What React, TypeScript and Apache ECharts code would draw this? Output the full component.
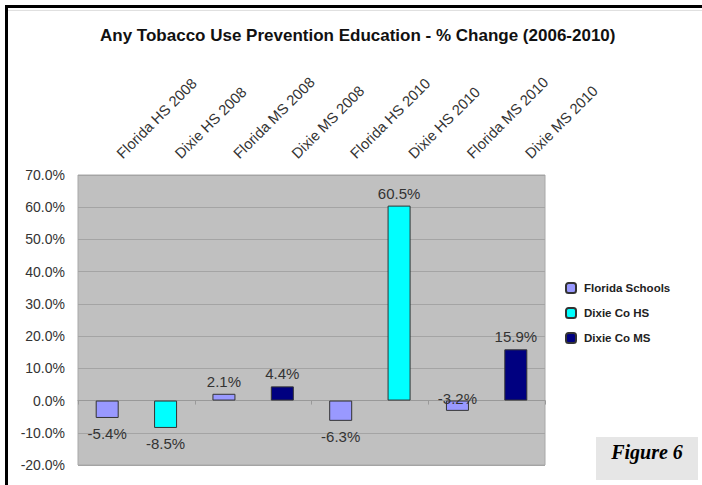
import React, { useEffect, useRef } from "react";
import * as echarts from "echarts";

const title = "Any Tobacco Use Prevention Education - % Change (2006-2010)";
const categories = [
  "Florida HS 2008",
  "Dixie HS 2008",
  "Florida MS 2008",
  "Dixie MS 2008",
  "Florida HS 2010",
  "Dixie HS 2010",
  "Florida MS 2010",
  "Dixie MS 2010",
];
const floridaSchools = [-5.4, null, 2.1, null, -6.3, null, -3.2, null];
const dixieCoHS = [null, -8.5, null, null, null, 60.5, null, null];
const dixieCoMS = [null, null, null, 4.4, null, null, null, 15.9];
const seriesNames = ["Florida Schools", "Dixie Co HS", "Dixie Co MS"];
const seriesColors = ["#9999ff", "#00ffff", "#000080"];
const yMin = -20;
const yMax = 70;
const yInterval = 10;
const figureLabel = "Figure 6";

const FONT = "'Liberation Sans', Arial, Helvetica, sans-serif";

function buildItems(vals: (number | null)[]) {
  return vals.map((v, i) => {
    if (v === null) return "-";
    if (categories[i] === "Florida MS 2010") {
      return { value: v, label: { position: "top", offset: [0, 10] } };
    }
    if (v < 0) return { value: v, label: { position: "bottom", distance: 8 } };
    return { value: v, label: { position: "top" } };
  });
}

export default function App() {
  const ref = useRef<HTMLDivElement>(null);
  useEffect(() => {
    if (!ref.current) return;
    const chart = echarts.init(ref.current, null, { renderer: "svg" });
    const allData = [floridaSchools, dixieCoHS, dixieCoMS];
    chart.setOption({
      animation: false,
      backgroundColor: "#ffffff",
      title: {
        text: title,
        left: 100,
        top: 27,
        padding: 0,
        textStyle: { fontFamily: FONT, fontSize: 17, fontWeight: "bold", color: "#111" },
      },
      legend: {
        orient: "vertical",
        left: 565,
        top: 282,
        padding: 0,
        itemWidth: 10,
        itemHeight: 10,
        itemGap: 13,
        data: seriesNames,
        textStyle: {
          fontFamily: FONT,
          fontSize: 11.5,
          fontWeight: "bold",
          color: "#222",
          padding: [0, 0, 0, 3],
        },
      },
      grid: {
        left: 78,
        top: 175,
        right: 157,
        bottom: 20,
        show: true,
        backgroundColor: "#c0c0c0",
        borderColor: "#a8a8a8",
        borderWidth: 1,
      },
      xAxis: [
        {
          type: "category",
          position: "top",
          data: categories,
          axisLine: { show: false, onZero: false },
          axisTick: { show: false },
          axisLabel: {
            interval: 0,
            rotate: -45,
            margin: 7,
            padding: [0, 0, 0, 17],
            fontFamily: FONT,
            fontSize: 14.7,
            color: "#333",
          },
        },
        {
          type: "category",
          position: "bottom",
          data: categories,
          axisLine: { show: true, onZero: true, lineStyle: { color: "#999", width: 1 } },
          axisTick: { show: true, length: 4, inside: false, lineStyle: { color: "#999" } },
          axisLabel: { show: false },
        },
      ],
      yAxis: {
        type: "value",
        min: yMin,
        max: yMax,
        interval: yInterval,
        axisLine: { show: false },
        axisTick: { show: false },
        splitLine: { lineStyle: { color: "#a4a4a4", width: 1 } },
        axisLabel: {
          margin: 13,
          fontFamily: FONT,
          fontSize: 14,
          color: "#333",
          formatter: (v: number) => v.toFixed(1) + "%",
        },
      },
      series: seriesNames.map((name, k) => ({
        name,
        type: "bar",
        stack: "all",
        xAxisIndex: 0,
        barWidth: 23,
        data: buildItems(allData[k]),
        itemStyle: { color: seriesColors[k], borderColor: "#333", borderWidth: 1 },
        label: {
          show: true,
          distance: 5,
          fontFamily: FONT,
          fontSize: 15,
          color: "#333",
          formatter: (p: any) => Number(p.value).toFixed(1) + "%",
        },
      })),
      graphic: [
        {
          type: "rect",
          shape: { x: 6.5, y: 6.5, width: 800, height: 600 },
          style: { fill: "none", stroke: "#000", lineWidth: 3 },
        },
        {
          type: "line",
          shape: { x1: 8, y1: 10.5, x2: 702, y2: 10.5 },
          style: { stroke: "#e0e0e0", lineWidth: 1 },
        },
        {
          type: "rect",
          shape: { x: 596, y: 437, width: 102, height: 43 },
          style: { fill: "#e6e6e6" },
        },
        {
          type: "text",
          x: 647,
          y: 452,
          style: {
            text: figureLabel,
            fontFamily: "'Liberation Serif', 'Times New Roman', serif",
            fontSize: 20,
            fontWeight: "bold",
            fontStyle: "italic",
            fill: "#000",
            align: "center",
            verticalAlign: "middle",
          },
        },
      ],
    });
    return () => chart.dispose();
  }, []);
  return (
    <div
      ref={ref}
      style={{ position: "fixed", left: 0, top: 0, width: 702, height: 485 }}
    />
  );
}
